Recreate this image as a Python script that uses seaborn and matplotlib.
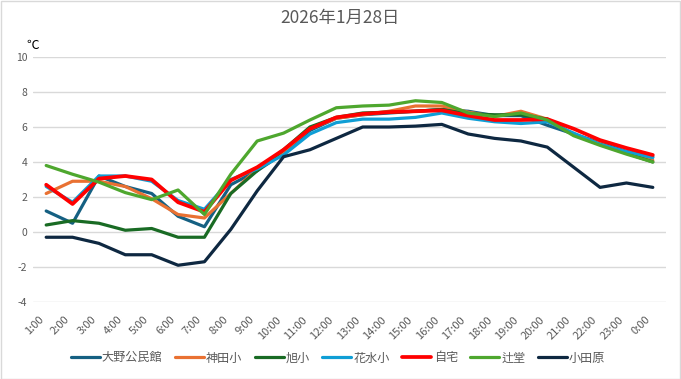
import matplotlib
matplotlib.use("Agg")
import matplotlib.pyplot as plt
import matplotlib.transforms as mtransforms
import seaborn as sns
import pandas as pd
from matplotlib.patches import Rectangle

hours = ["1:00", "2:00", "3:00", "4:00", "5:00", "6:00", "7:00", "8:00", "9:00", "10:00",
         "11:00", "12:00", "13:00", "14:00", "15:00", "16:00", "17:00", "18:00", "19:00",
         "20:00", "21:00", "22:00", "23:00", "0:00"]

ono = [1.2, 0.5, 3.2, 2.6, 2.2, 0.9, 0.3, 2.7, 3.5, 4.5, 5.8, 6.5, 6.7, 6.8, 6.9, 7.0,
       6.9, 6.65, 6.65, 6.1, 5.6, 5.1, 4.6, 4.3]
kanda = [2.2, 2.9, 2.9, 2.6, 1.9, 1.0, 0.8, 2.2, 3.6, 4.6, 5.9, 6.5, 6.7, 6.9, 7.2, 7.2,
         6.85, 6.6, 6.9, 6.45, 5.55, 5.05, 4.5, 4.1]
asahi = [0.4, 0.65, 0.5, 0.1, 0.2, -0.3, -0.3, 2.2, 3.5, 4.7, 6.0, 6.55, 6.8, 6.85, 6.9, 7.0,
         6.75, 6.7, 6.7, 6.45, 5.55, 5.0, 4.5, 4.0]
hanamizu = [2.6, 1.7, 3.2, 3.2, 2.9, 1.8, 1.3, 3.0, 3.6, 4.4, 5.6, 6.25, 6.45, 6.45, 6.55, 6.8,
            6.5, 6.3, 6.2, 6.3, 5.65, 5.0, 4.6, 4.25]
jitaku = [2.7, 1.6, 3.05, 3.2, 3.0, 1.7, 1.15, 2.95, 3.7, 4.7, 5.9, 6.55, 6.75, 6.85, 6.9, 6.95,
          6.65, 6.4, 6.4, 6.45, 5.9, 5.25, 4.8, 4.4]
tsujido = [3.8, 3.3, 2.85, 2.25, 1.85, 2.4, 1.0, 3.3, 5.2, 5.65, 6.4, 7.1, 7.2, 7.25, 7.5, 7.4,
           6.8, 6.6, 6.8, 6.4, 5.5, 4.95, 4.45, 4.0]
odawara = [-0.3, -0.3, -0.65, -1.3, -1.3, -1.9, -1.7, 0.15, 2.35, 4.3, 4.7, 5.35, 6.0, 6.0, 6.05, 6.15,
           5.6, 5.35, 5.2, 4.85, 3.7, 2.55, 2.8, 2.55]

names = ["大野公民館", "神田小", "旭小", "花水小", "自宅", "辻堂", "小田原"]
series = [ono, kanda, asahi, hanamizu, jitaku, tsujido, odawara]
colors = ["#156082", "#E97132", "#196B24", "#0F9ED5", "#FF0000", "#4EA72E", "#0E2841"]
title = "2026年1月28日"
y_ticks = [-4, -2, 0, 2, 4, 6, 8, 10]

sns.set_theme(style="white")
plt.rcParams['font.family'] = ['Noto Sans CJK JP', 'DejaVu Sans']

rows = []
for name, vals in zip(names, series):
    for i, v in enumerate(vals):
        rows.append({"series": name, "idx": i, "temp": v})
df = pd.DataFrame(rows)

fig = plt.figure(figsize=(6.81, 3.79), dpi=100)
ax = fig.add_axes([33 / 681, 1 - 302 / 379, (666 - 33) / 681, (302 - 57) / 379])

for name, col in zip(names, colors):
    sub = df[df["series"] == name]
    lw = 2.7 if name == "自宅" else 2.3
    sns.lineplot(data=sub, x="idx", y="temp", ax=ax, color=col, linewidth=lw,
                 label=name, sort=False, estimator=None)

ax.set_xlim(-0.5, len(hours) - 0.5)
ax.set_ylim(-4, 10)
ax.set_yticks(y_ticks)
ax.set_yticklabels([str(t) for t in y_ticks], fontsize=7.5, color="#595959")
ax.set_xticks(range(len(hours)))
ax.set_xticklabels(hours, rotation=45, ha="right", rotation_mode="anchor",
                   fontsize=8, color="#595959")
ax.tick_params(axis="both", length=0, pad=4)
ax.tick_params(axis="x", pad=9)
shift = mtransforms.ScaledTranslation(-8 / 100, 0, fig.dpi_scale_trans)
for lbl in ax.get_xticklabels():
    lbl.set_transform(lbl.get_transform() + shift)
ax.set_xlabel("")
ax.set_ylabel("")
ax.grid(axis="y", color="#D9D9D9", linewidth=1)
ax.set_axisbelow(True)
for s in ax.spines.values():
    s.set_visible(False)

fig.text(340 / 681, 1 - 18 / 379, title, ha="center", va="center", fontsize=12.5, color="#595959")
fig.text(26 / 681, 1 - 45 / 379, "℃", ha="left", va="center", fontsize=9, color="#000000")

leg = ax.legend(loc="center", ncol=7, frameon=False, fontsize=8.7, handlelength=2.4,
                handletextpad=0.2, columnspacing=1.0)
for t in leg.get_texts():
    t.set_color("#595959")
leg.set_bbox_to_anchor((338 / 681, 1 - 358 / 379), transform=fig.transFigure)

fig.patches.append(Rectangle((0.5 / 681, 0.5 / 379), 1 - 1.5 / 681, 1 - 1.5 / 379,
                             transform=fig.transFigure, fill=False, edgecolor="#D9D9D9",
                             linewidth=1))

fig.savefig("out.png", dpi=100)
